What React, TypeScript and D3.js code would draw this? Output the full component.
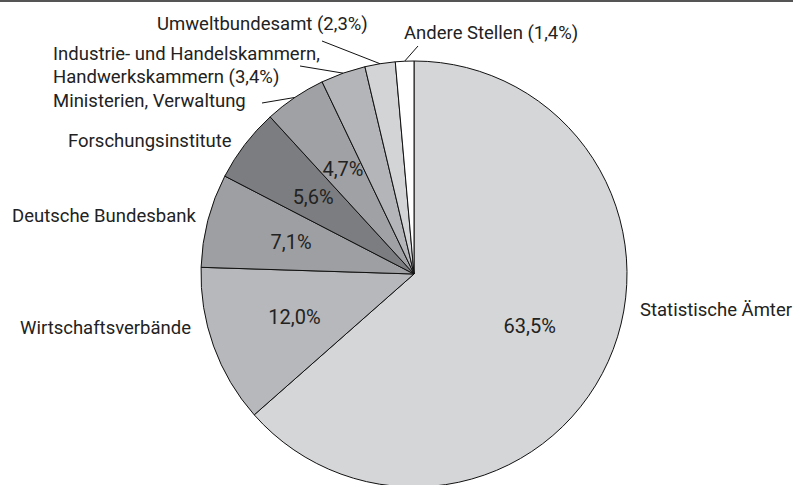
import React, { useEffect, useRef } from 'react'
import * as d3 from 'd3'

const categories = [
  'Statistische Ämter',
  'Wirtschaftsverbände',
  'Deutsche Bundesbank',
  'Forschungsinstitute',
  'Ministerien, Verwaltung',
  'Industrie- und Handelskammern, Handwerkskammern',
  'Umweltbundesamt',
  'Andere Stellen'
]
const shares = [63.5, 12.0, 7.1, 5.6, 4.7, 3.4, 2.3, 1.4]
const fills = ['#d5d6d8', '#b7b8bb', '#9e9fa2', '#7c7d80', '#a0a1a4', '#b4b5b8', '#d3d4d6', '#ffffff']

// outside label text lines, per category
const outsideLines = [
  ['Statistische Ämter'],
  ['Wirtschaftsverbände'],
  ['Deutsche Bundesbank'],
  ['Forschungsinstitute'],
  ['Ministerien, Verwaltung'],
  ['Industrie- und Handelskammern,', 'Handwerkskammern (3,4%)'],
  ['Umweltbundesamt (2,3%)'],
  ['Andere Stellen (1,4%)']
]
// which slices carry the share inside
const insideShown = [true, true, true, true, true, false, false, false]

const W = 793, H = 485
const cx = 414, cy = 274, R = 213
const FONT = 'Roboto, sans-serif'

// hand placed label spots (x, baseline y) and leader line start
const labelPos = [
  { x: 640, y: 316 },
  { x: 20, y: 334 },
  { x: 12, y: 222 },
  { x: 68, y: 147 },
  { x: 53, y: 107, leader: [262, 103] },
  { x: 53, y: 60, leader: [300, 66] },
  { x: 157, y: 30, leader: [322, 41] },
  { x: 404, y: 39, leader: [418, 46] }
]

function fmt(v: number) {
  return v.toFixed(1).replace('.', ',') + '%'
}

export default function App() {
  const ref = useRef<SVGSVGElement>(null)

  useEffect(() => {
    document.body.style.margin = '0'
    const svg = d3.select(ref.current)
    svg.selectAll('*').remove()

    svg.append('rect').attr('width', W).attr('height', H).attr('fill', '#fff')
    // top rule
    svg.append('rect').attr('x', 0).attr('y', 0).attr('width', W).attr('height', 2).attr('fill', '#555')

    const pie = d3.pie<number>().sort(null).value(d => d)
    const arcs = pie(shares)
    const arc = d3.arc<d3.PieArcDatum<number>>().innerRadius(0).outerRadius(R)

    const g = svg.append('g').attr('transform', `translate(${cx},${cy})`)
    g.selectAll('path')
      .data(arcs)
      .join('path')
        .attr('d', arc)
        .attr('fill', (d, i) => fills[i])
        .attr('stroke', '#111')
        .attr('stroke-width', 1)
        .attr('stroke-linejoin', 'round')

    // shares inside the slices
    const inner = d3.arc<d3.PieArcDatum<number>>().innerRadius(127).outerRadius(127)
    arcs.forEach((d, i) => {
      if (!insideShown[i]) return
      const [x, y] = inner.centroid(d)
      g.append('text')
        .attr('x', x)
        .attr('y', y)
        .attr('text-anchor', 'middle')
        .attr('dominant-baseline', 'central')
        .attr('font-family', FONT)
        .attr('font-size', 20)
        .attr('fill', '#222')
        .text(fmt(shares[i]))
    })

    // outside labels with leader lines
    const edge = d3.arc<d3.PieArcDatum<number>>().innerRadius(R).outerRadius(R)
    arcs.forEach((d, i) => {
      const p = labelPos[i]
      const t = svg.append('text')
        .attr('font-family', FONT)
        .attr('font-size', 18.5)
        .attr('fill', '#222')
      outsideLines[i].forEach((line, k) => {
        t.append('tspan').attr('x', p.x).attr('y', p.y + k * 23).text(line)
      })
      if (p.leader) {
        const [ex, ey] = edge.centroid(d)
        svg.append('line')
          .attr('x1', p.leader[0]).attr('y1', p.leader[1])
          .attr('x2', cx + ex).attr('y2', cy + ey)
          .attr('stroke', '#111')
          .attr('stroke-width', 1)
      }
    })
  }, [])

  return <svg ref={ref} width={W} height={H} style={{ display: 'block' }} />
}
